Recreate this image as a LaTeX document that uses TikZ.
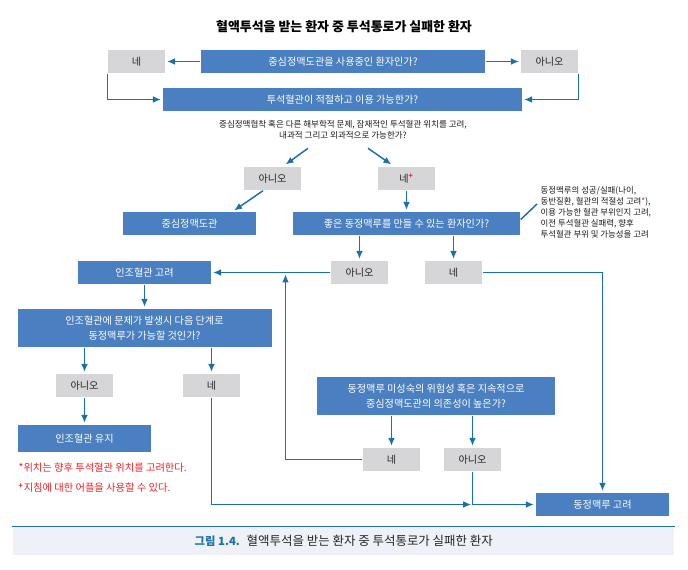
\documentclass[tikz,border=0pt]{standalone}
\usepackage{fontspec}
\setmainfont{Noto Sans CJK KR}
\usetikzlibrary{calc,positioning,arrows.meta}

\definecolor{boxblue}{HTML}{4A80C1}
\definecolor{boxgray}{HTML}{D6D6D8}
\definecolor{linkblue}{HTML}{1A70A8}
\definecolor{capback}{HTML}{EEF2F8}
\definecolor{notered}{HTML}{EC2327}

\tikzset{
    ask/.style={fill=boxblue,text=white,inner sep=0pt,align=center,font=\fontsize{7.6}{11}\selectfont},
    onerow/.style={minimum height=17.25pt},
    tworow/.style={minimum height=28.5pt},
    endbox/.style={ask,onerow,minimum width=99.75pt},
    reply/.style={fill=boxgray,text=black!85,inner sep=0pt,minimum width=42.75pt,minimum height=17.25pt,font=\fontsize{7.6}{11}\selectfont},
    small/.style={text=black!90,inner sep=0pt,font=\fontsize{6.3}{8.25}\selectfont},
    rednote/.style={text=notered,inner sep=0pt,anchor=west,font=\fontsize{7.7}{9}\selectfont}
}

\begin{document}
\begin{tikzpicture}[
            x=0.75pt,y=-0.75pt,
            every path/.append style={linkblue,line width=1.1pt},
            every node/.append style={black},
            link/.style={-{Latex[length=6pt,width=5pt]},shorten >=1pt}
        ]
            \useasboundingbox (0,0) rectangle (688,570);

            \node[inner sep=0pt,font=\bfseries\fontsize{9.7}{11}\selectfont] (title) at (344,27) {혈액투석을 받는 환자 중 투석통로가 실패한 환자};

            % top row
            \node[ask,onerow,minimum width=213pt] (catheter) at (343,61.5) {중심정맥도관을 사용중인 환자인가?};
            \node[reply] (yes1) at (136.5,61.5) {네};
            \node[reply] (no1) at (549.5,61.5) {아니오};
            \node[ask,onerow,minimum width=269.25pt] (access) at (342.5,99.5) {투석혈관이 적절하고 이용 가능한가?};
            \node[small,align=center,font=\fontsize{6.4}{8.25}\selectfont] (crit) at (343,129.5) {중심정맥협착 혹은 다른 해부학적 문제, 잠재적인 투석혈관 위치를 고려,\\내과적 그리고 외과적으로 가능한가?};

            \node[reply] (no2) at (272.5,178.5) {아니오};
            \node[reply] (yes2) at (406.5,178.5) {네\textsuperscript{\textcolor{notered}{\bfseries +}}};
            \node[endbox] (cvc) at (189.5,223.5) {중심정맥도관};
            \node[ask,onerow,minimum width=170.25pt] (avf) at (406.5,223.5) {좋은 동정맥루를 만들 수 있는 환자인가?};
            \node[small,align=left,anchor=west] (side) at (540,212.5) {동정맥루의 성공/실패(나이,\\동반질환, 혈관의 적절성 고려\textcolor{notered}{*}),\\이용 가능한 혈관 부위인지 고려,\\이전 투석혈관 실패력, 향후\\투석혈관 부위 및 가능성을 고려};

            \node[endbox] (graft) at (144.5,272.5) {인조혈관 고려};
            \node[reply] (no3) at (359.5,272.5) {아니오};
            \node[reply] (yes3) at (453.5,272.5) {네};

            % left column
            \node[ask,tworow,minimum width=190.5pt] (next) at (144.5,328) {인조혈관에 문제가 발생시 다음 단계로\\동정맥루가 가능할 것인가?};
            \node[reply] (no4) at (84.5,385.5) {아니오};
            \node[reply] (yes4) at (211.5,385.5) {네};
            \node[endbox,minimum height=20.25pt] (keep) at (84.5,438.5) {인조혈관 유지};
            \node[rednote] (note1) at (18,468) {*위치는 향후 투석혈관 위치를 고려한다.};
            \node[rednote] (note2) at (18,488) {\textsuperscript{\bfseries +}지침에 대한 어플을 사용할 수 있다.};

            % right column
            \node[ask,tworow,minimum width=178.5pt] (risk) at (436,396) {동정맥루 미성숙의 위험성 혹은 지속적으로\\중심정맥도관의 의존성이 높은가?};
            \node[reply] (yes5) at (391.5,459.5) {네};
            \node[reply] (no5) at (472.5,459.5) {아니오};
            \node[endbox] (fistula) at (602.5,504.5) {동정맥루 고려};

            % caption
            \node[fill=capback,inner sep=0pt,minimum width=495.75pt,minimum height=21pt] (capbar) at (343.5,541) {};
            \node[inner sep=0pt,anchor=west,text=linkblue,font=\bfseries\fontsize{8.5}{11}\selectfont] (capnum) at (194,541) {그림 1.4.};
            \node[inner sep=0pt,anchor=west,text=black!85,font=\fontsize{9.35}{11}\selectfont] (captext) at (246,541) {혈액투석을 받는 환자 중 투석통로가 실패한 환자};
            \draw[line width=0.9pt] (capbar.north west) -- (capbar.north east);

            \coordinate (upend) at (285.5,273);

            \draw[link] (catheter) -- (yes1);
            \draw[link] (catheter) -- (no1);
            \draw[link] (yes1.south west) |- (access.west);
            \draw[link] (no1.south east) |- (access.east);
            \draw[link] ($(no2.north)+(35.5,-18)$) -- ($(no2.north)+(12,-1)$);
            \draw[link] ($(yes2.north)+(-38.5,-18)$) -- ($(yes2.north)+(-14,-1)$);
            \draw[link] ($(no2.south)+(-9.5,0)$) -- ($(cvc.north)+(43.5,0)$);
            \draw[link] (yes2) -- (avf);
            \draw ($(avf.east)+(0,-4)$) -- ($(side.west)+(-3,-8.5)$);
            \draw[link] (avf.south -| no3) -- (no3);
            \draw[link] (avf.south -| yes3) -- (yes3);
            \draw[link] (no3) -- (graft);
            \draw[link] (yes3) -| (fistula);
            \draw[link] (graft.south -| next) -- (next);
            \draw[link] (next.south -| no4) -- (no4);
            \draw[link] (next.south -| yes4) -- (yes4);
            \draw[link] (no4) -- (keep);
            \draw[link] (risk.south -| yes5) -- (yes5);
            \draw[link] (risk.south -| no5) -- (no5);
            \draw[link] (yes5) -| (upend);
            \draw[link] (yes4) |- (no5 |- fistula);
            \draw[link] (no5) |- (fistula);
        \end{tikzpicture}
\end{document}
